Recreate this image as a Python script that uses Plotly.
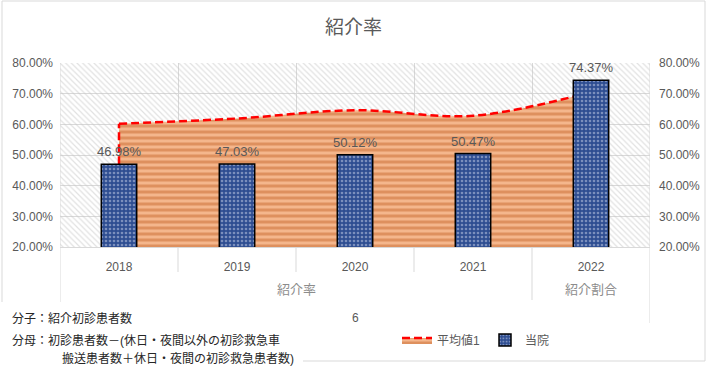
import plotly.graph_objects as go

# ---- data ----
groups = ["紹介率", "紹介率", "紹介率", "紹介率", "紹介割合"]
years = ["2018", "2019", "2020", "2021", "2022"]
hospital = [0.4698, 0.4703, 0.5012, 0.5047, 0.7437]   # 当院
average1 = [0.602, 0.619, 0.646, 0.628, 0.705]        # 平均値1
hospital_labels = ["46.98%", "47.03%", "50.12%", "50.47%", "74.37%"]
title_text = "紹介率"
note_lines = ["分子：紹介初診患者数",
              "分母：初診患者数－(休日・夜間以外の初診救急車",
              "搬送患者数＋休日・夜間の初診救急患者数)"]

YMIN, YMAX = 0.2, 0.8
W, H = 707, 387
ML, MR, MT, MB = 60, 57, 63, 140
PW, PH = W - ML - MR, H - MT - MB

def px(x):
    return (x - ML) / PW

def py(y):
    return (H - MB - y) / PH

FONT = "Liberation Sans, Noto Sans CJK JP, sans-serif"
GRAY = "#595959"
GRID = "#D9D9D9"
n = len(years)

fig = go.Figure()

# plot-area hatch background
fig.add_trace(go.Bar(
    x=years, y=[YMAX] * n, width=1.0, offset=-0.5,
    marker=dict(color="rgba(0,0,0,0)", line=dict(width=0),
                pattern=dict(shape="\\", fgcolor="#C4C4C4", bgcolor="rgba(0,0,0,0)",
                             size=4, solidity=0.3)),
    showlegend=False, hoverinfo="skip", yaxis="y"))

# area series (平均値1)
fig.add_trace(go.Scatter(
    x=years, y=average1, name="平均値1", mode="lines",
    line=dict(color="#FF0000", width=2.5, dash="8px,4px", shape="spline", smoothing=1),
    fill="tozeroy",
    fillpattern=dict(shape="-", fgcolor="#C8692F", bgcolor="#F4B68C", size=6, solidity=0.5),
    hoverinfo="skip", yaxis="y"))

# left edge of the area outline
fig.add_trace(go.Scatter(
    x=[years[0], years[0]], y=[0, average1[0]],
    mode="lines", line=dict(color="#FF0000", width=2.5, dash="8px,4px"),
    showlegend=False, hoverinfo="skip", yaxis="y"))

# bars (当院)
fig.add_trace(go.Bar(
    x=years, y=hospital, name="当院", width=0.3, offset=-0.15,
    marker=dict(color="#2E4D91", line=dict(color="#000000", width=1.5),
                pattern=dict(shape=".", fgcolor="#C8D2EA", bgcolor="#2E4D91",
                             size=4, solidity=0.35)),
    hoverinfo="skip", yaxis="y2"))

# bar data labels (category axis: position by index)
for i, (v, lab) in enumerate(zip(hospital, hospital_labels)):
    fig.add_annotation(text=lab, x=i, y=v, xref="x", yref="y2", yanchor="bottom",
                       yshift=3, showarrow=False,
                       font=dict(color=GRAY, size=13, family=FONT))

yax = dict(range=[YMIN, YMAX], dtick=0.1, tickformat=".2%",
           tickfont=dict(color=GRAY, size=12, family=FONT),
           showgrid=True, gridcolor=GRID, zeroline=False, showline=False)

fig.update_layout(
    width=W, height=H,
    margin=dict(l=ML, r=MR, t=MT, b=MB, autoexpand=False),
    paper_bgcolor="white", plot_bgcolor="white",
    font=dict(family=FONT, color=GRAY),
    barmode="overlay",
    title=dict(text=title_text, x=0.5, xanchor="center", y=1 - 27 / H, yanchor="middle",
               font=dict(size=19, color=GRAY, family=FONT)),
    xaxis=dict(type="category", range=[-0.5, n - 0.5], tickson="boundaries",
               showgrid=True, gridcolor=GRID,
               showline=True, linecolor=GRID, ticks="",
               ticklabelstandoff=9,
               tickfont=dict(color=GRAY, size=12, family=FONT)),
    yaxis=dict(yax, ticklabelstandoff=6),
    yaxis2=dict(yax, overlaying="y", side="right", showgrid=False, ticklabelstandoff=8),
    legend=dict(orientation="h", x=px(476), y=py(340), xanchor="center", yanchor="middle",
                font=dict(color=GRAY, size=12, family=FONT), itemwidth=30,
                bgcolor="rgba(0,0,0,0)"),
    showlegend=True,
)

axis_line = dict(color=GRID, width=1)
# category boundary lines below the axis
for i in range(1, n):
    if groups[i] == groups[i - 1]:
        fig.add_shape(type="line", xref="x", yref="paper", x0=i - 0.5, x1=i - 0.5,
                      y0=0, y1=py(272), line=axis_line)
    else:
        fig.add_shape(type="line", xref="x", yref="paper", x0=i - 0.5, x1=i - 0.5,
                      y0=0, y1=py(300), line=axis_line)
# outer edges
fig.add_shape(type="line", xref="x", yref="paper", x0=-0.5, x1=-0.5, y0=1, y1=py(302), line=axis_line)
fig.add_shape(type="line", xref="x", yref="paper", x0=n - 0.5, x1=n - 0.5, y0=1, y1=py(323), line=axis_line)

# group labels
start = 0
for i in range(1, n + 1):
    if i == n or groups[i] != groups[start]:
        fig.add_annotation(text=groups[start], xref="x", yref="paper",
                           x=(start + i - 1) / 2, y=py(289), yanchor="middle",
                           showarrow=False, font=dict(color="#8C8C8C", size=13, family=FONT))
        start = i

# chart border (partially hidden by the note text box)
border = dict(color=GRID, width=1)
fig.add_shape(type="line", xref="paper", yref="paper", x0=px(2), x1=px(705), y0=py(1), y1=py(1), line=border)
fig.add_shape(type="line", xref="paper", yref="paper", x0=px(705), x1=px(705), y0=py(1), y1=py(361), line=border)
fig.add_shape(type="line", xref="paper", yref="paper", x0=px(303), x1=px(705), y0=py(361), y1=py(361), line=border)
fig.add_shape(type="line", xref="paper", yref="paper", x0=px(2), x1=px(2), y0=py(1), y1=py(302), line=border)

# stray "6" label
fig.add_annotation(text="6", xref="paper", yref="paper", x=px(355), y=py(318),
                   yanchor="middle", showarrow=False,
                   font=dict(size=12, color=GRAY, family=FONT))

# note text box
note_pos = [(10, 318), (10, 340), (60, 358)]
for (nx, ny), line in zip(note_pos, note_lines):
    fig.add_annotation(text=line, xref="paper", yref="paper", x=px(nx), y=py(ny),
                       xanchor="left", yanchor="middle", showarrow=False,
                       font=dict(size=12, color="#262626", family=FONT))

fig.write_html("out.html", config={"displayModeBar": False},
               post_script="document.body.style.margin='0px';")
